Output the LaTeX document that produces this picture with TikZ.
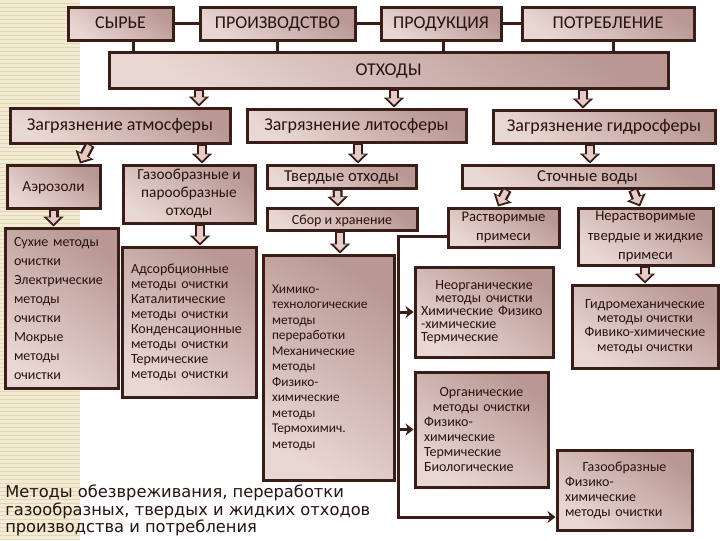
\documentclass[tikz,border=0pt]{standalone}
\usepackage{fontspec}
\setmainfont{Carlito}
\newfontfamily\titlefont{DejaVu Sans}
\usetikzlibrary{arrows.meta,patterns}

\newlength\ux
\setlength\ux{0.75pt}
\definecolor{boxline}{HTML}{3B1D18}
\definecolor{boxlight}{HTML}{E9D7D3}
\definecolor{boxdeep}{HTML}{B99893}
\definecolor{arrowfill}{HTML}{E6CCC8}
\definecolor{stripbg}{HTML}{F3EBD3}
\definecolor{stripline}{HTML}{E3D6B4}
\definecolor{txt}{HTML}{26130F}
\newcommand\midline[1]{\makebox[\hsize]{#1}}
\newcommand\fatarrow[2]{%
  \draw[line width=7.5pt, draw=boxline, -{Triangle[length=7.5pt,width=15pt]}] #1 -- #2;
  \draw[line width=4pt, draw=arrowfill, shorten <=1pt, shorten >=2pt,
        -{Triangle[length=4.9pt,width=9.75pt]}] #1 -- #2;}

\begin{document}
\begin{tikzpicture}[x=0.75pt, y=-0.75pt,
    box/.style={draw=boxline, line width=3\ux, top color=boxdeep, bottom color=boxlight,
                shading angle=-35, inner sep=0pt, text=txt, align=center},
    link/.style={draw=boxline, line width=3\ux},
    tip/.style={-{Stealth[length=6pt,width=9pt]}},
    fs/.style={font=\fontsize{#1}{#1}\selectfont, text height=8.8pt, text depth=0.6pt}]
    \useasboundingbox (0,0) rectangle (720,540);
    % фон
    \fill[stripbg] (0,0) rectangle (80,540);
    \fill[pattern=horizontal lines, pattern color=stripline] (0,0) rectangle (80,540);
    % верхний ряд
    \node[box, fs=13.5, minimum width=105\ux, minimum height=33\ux] (raw) at (120.5,23.5) {СЫРЬЕ};
    \node[box, fs=13.5, minimum width=155\ux, minimum height=33\ux] (prod) at (277.5,23.5) {ПРОИЗВОДСТВО};
    \node[box, fs=13.5, minimum width=120\ux, minimum height=33\ux] (product) at (441,23.5) {ПРОДУКЦИЯ};
    \node[box, fs=13.5, minimum width=172\ux, minimum height=33\ux] (cons) at (608,23.5) {ПОТРЕБЛЕНИЕ};
    \node[box, fs=13.5, minimum width=559\ux, minimum height=36\ux] (waste) at (388.5,70) {ОТХОДЫ};
    \draw[link] (raw) -- (prod);
    \draw[link] (prod) -- (product);
    \draw[link] (product) -- (cons);
    \draw[link] ([xshift=12.5\ux]raw.south) -- ([xshift=12.5\ux]raw.south |- waste.north);
    \draw[link] (prod.south) -- (prod.south |- waste.north);
    \draw[link] ([xshift=2\ux]product.south) -- ([xshift=2\ux]product.south |- waste.north);
    \draw[link] ([xshift=5\ux]cons.south) -- ([xshift=5\ux]cons.south |- waste.north);
    % загрязнение
    \node[box, fs=13.5, minimum width=220\ux, minimum height=35\ux] (atm) at (120,125.5) {Загрязнение атмосферы};
    \node[box, fs=13.5, minimum width=219\ux, minimum height=33\ux] (lith) at (356.5,125.5) {Загрязнение литосферы};
    \node[box, fs=13.5, minimum width=222\ux, minimum height=33\ux] (hydro) at (604,126.5) {Загрязнение гидросферы};
    % третий ряд
    \node[box, fs=11.5, minimum width=93\ux, minimum height=43\ux] (aero) at (53.5,186.5) {Аэрозоли};
    \node[box, font=\fontsize{11.5}{13.5}\selectfont, minimum width=132\ux, minimum height=58\ux] (gas) at (189,194)
        {Газообразные и\\парообразные\\отходы};
    \node[box, fs=12.5, minimum width=149\ux, minimum height=23\ux] (solid) at (341.5,176.5) {Твердые отходы};
    \node[box, fs=12.5, minimum width=251\ux, minimum height=23\ux] (sewage) at (587.5,176.5) {Сточные воды};
    \node[box, fs=10.5, minimum width=150\ux, minimum height=22\ux] (store) at (342,219) {Сбор и хранение};
    \node[box, font=\fontsize{11}{14}\selectfont, minimum width=111\ux, minimum height=39\ux] (dissolved) at (503.5,227.5)
        {Растворимые\\примеси};
    \node[box, font=\fontsize{11}{14.5}\selectfont, minimum width=135\ux, minimum height=57\ux] (insoluble) at (645.5,236.5)
        {Нерастворимые\\твердые и жидкие\\примеси};
    % методы
    \node[box, align=left, font=\fontsize{10.5}{14.25}\selectfont, text width=95\ux,
          minimum width=113\ux, minimum height=160\ux] (dry) at (61.5,308)
        {Сухие методы\\очистки\\Электрические\\методы\\очистки\\Мокрые\\методы\\очистки};
    \node[box, align=left, font=\fontsize{10.5}{11.25}\selectfont, text width=116\ux,
          minimum width=134\ux, minimum height=150\ux] (adsorb) at (189,322)
        {Адсорбционные\\методы очистки\\Каталитические\\методы очистки\\Конденсационные\\методы очистки\\Термические\\методы очистки};
    \node[box, align=left, font=\fontsize{10}{11.6}\selectfont, text width=113\ux,
          minimum width=131\ux, minimum height=225\ux] (chem) at (328.5,367.5)
        {Химико-\\технологические\\методы\\переработки\\Механические\\методы\\Физико-\\химические\\методы\\Термохимич.\\методы};
    \node[box, align=left, font=\fontsize{10.5}{9.8}\selectfont, text width=126\ux,
          minimum width=138\ux, minimum height=90\ux] (inorg) at (484,312)
        {\midline{Неорганические}\\\midline{методы очистки}\\Химические Физико\\-химические\\Термические};
    \node[box, align=left, font=\fontsize{10.5}{11.2}\selectfont, text width=115\ux,
          minimum width=133\ux, minimum height=115\ux] (org) at (481.5,429.5)
        {\midline{Органические}\\\midline{методы очистки}\\Физико-\\химические\\Термические\\Биологические};
    \node[box, font=\fontsize{10.5}{10.7}\selectfont, minimum width=146\ux, minimum height=83\ux] (hydromech) at (645,326.5)
        {Гидромеханические\\методы очистки\\Фивико-химические\\методы очистки};
    \node[box, align=left, font=\fontsize{10.5}{11.2}\selectfont, text width=119\ux,
          minimum width=135\ux, minimum height=80\ux] (gasbot) at (624.5,490)
        {\midline{Газообразные}\\Физико-\\химические\\методы очистки};
    % стрелки
    \fatarrow{([xshift=79\ux]atm.north |- waste.south)}{([xshift=79\ux]atm.north)}
    \fatarrow{([xshift=37.5\ux]lith.north |- waste.south)}{([xshift=37.5\ux]lith.north)}
    \fatarrow{([xshift=-21\ux]hydro.north |- waste.south)}{([xshift=-21\ux]hydro.north)}
    \fatarrow{([xshift=-30\ux]atm.south)}{([xshift=26.5\ux]aero.north)}
    \fatarrow{([xshift=13\ux]gas.north |- atm.south)}{([xshift=13\ux]gas.north)}
    \fatarrow{([xshift=16.5\ux]solid.north |- lith.south)}{([xshift=16.5\ux]solid.north)}
    \fatarrow{([xshift=2.5\ux]sewage.north |- hydro.south)}{([xshift=2.5\ux]sewage.north)}
    \fatarrow{([xshift=-4\ux]solid.south)}{([xshift=-4\ux]store.north)}
    \fatarrow{([xshift=-80.5\ux]sewage.south)}{([xshift=-5.5\ux]dissolved.north)}
    \fatarrow{([xshift=45.5\ux]sewage.south)}{([xshift=-5.5\ux]insoluble.north)}
    \fatarrow{(aero.south)}{(aero.south |- dry.north)}
    \fatarrow{([xshift=11\ux]adsorb.north |- gas.south)}{([xshift=11\ux]adsorb.north)}
    \fatarrow{([xshift=11.5\ux]chem.north |- store.south)}{([xshift=11.5\ux]chem.north)}
    \fatarrow{(insoluble.south -| hydromech.north)}{(hydromech.north)}
    % растворимые примеси
    \coordinate (trunk) at (398,0);
    \draw[link, tip] ([yshift=-9\ux]dissolved.west) -| (trunk |- gasbot.west) |- ([yshift=-27\ux]gasbot.west);
    \draw[link, tip] (trunk |- inorg.west) -- (inorg.west);
    \draw[link, tip] (trunk |- org.west) -- (org.west);
    % подпись
    \node[anchor=north west, align=left, inner sep=0pt, text=txt,
          font=\titlefont\fontsize{12.2}{10.9}\selectfont] (title) at (5,485)
        {Методы обезвреживания, переработки\\газообразных, твердых и жидких отходов\\производства и потребления};
\end{tikzpicture}
\end{document}
